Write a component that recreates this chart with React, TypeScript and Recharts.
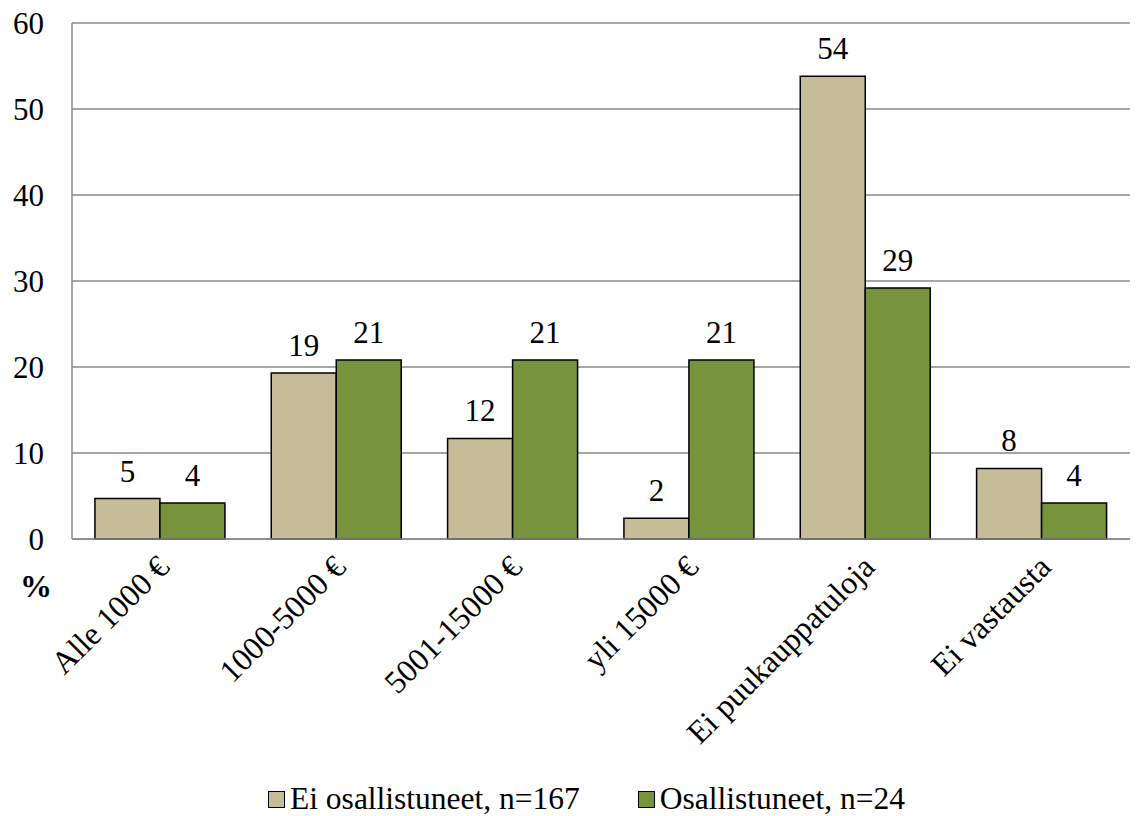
import React from 'react'
import { BarChart, Bar, XAxis, YAxis, CartesianGrid, LabelList, Legend } from 'recharts'

const categories = ['Alle 1000 €', '1000-5000 €', '5001-15000 €', 'yli 15000 €', 'Ei puukauppatuloja', 'Ei vastausta']
const eiOsallistuneet = [4.7, 19.3, 11.7, 2.4, 53.8, 8.2]
const osallistuneet = [4.2, 20.8, 20.8, 20.8, 29.2, 4.2]
const yTicks = [0, 10, 20, 30, 40, 50, 60]

const SERIES = [
  { key: 'ei', name: 'Ei osallistuneet, n=167', color: '#C4BD97' },
  { key: 'os', name: 'Osallistuneet, n=24', color: '#77933C' },
]

const FONT = 'Liberation Serif, Times New Roman, serif'

const data = categories.map((c, i) => ({ name: c, ei: eiOsallistuneet[i], os: osallistuneet[i] }))

// rotated category labels, ending just under the category centre
const XTick = ({ x, y, payload }: any) => (
  <text
    x={x + 11}
    y={y + 22}
    transform={`rotate(-45, ${x + 11}, ${y + 22})`}
    textAnchor="end"
    fontSize={32}
    fontFamily={FONT}
    fill="#000"
  >
    {payload.value}
  </text>
)

const LegendContent = () => (
  <div style={{ display: 'flex', paddingLeft: 268, gap: 58, fontFamily: FONT, fontSize: 31.5, color: '#000', lineHeight: '32px' }}>
    {SERIES.map((s) => (
      <div key={s.key} style={{ display: 'flex', alignItems: 'center' }}>
        <span style={{ width: 15, height: 15, background: s.color, border: '1.5px solid #000', marginRight: 5, display: 'inline-block' }} />
        <span>{s.name}</span>
      </div>
    ))}
  </div>
)

export default function App() {
  return (
    <div style={{ position: 'absolute', left: 0, top: 0, width: 1139, height: 816, background: '#fff' }}>
      <BarChart
        width={1139}
        height={816}
        data={data}
        margin={{ top: 23, right: 9, left: 0, bottom: 1 }}
        barCategoryGap="13%"
        barGap={0}
      >
        <CartesianGrid vertical={false} stroke="#898989" strokeWidth={1.5} />
        <XAxis
          dataKey="name"
          interval={0}
          height={244}
          tick={<XTick />}
          tickLine={false}
          axisLine={{ stroke: '#898989', strokeWidth: 1.5 }}
        />
        <YAxis
          width={72}
          domain={[0, 60]}
          ticks={yTicks}
          tickLine={false}
          tickMargin={22}
          axisLine={{ stroke: '#898989', strokeWidth: 1.5 }}
          tick={{ fontSize: 31, fontFamily: FONT, fill: '#000' }}
        />
        <Legend verticalAlign="bottom" content={<LegendContent />} />
        {SERIES.map((s) => (
          <Bar key={s.key} dataKey={s.key} name={s.name} fill={s.color} stroke="#000" strokeWidth={1.5} isAnimationActive={false}>
            <LabelList
              dataKey={s.key}
              position="top"
              offset={17}
              formatter={(v: any) => Math.round(v)}
              style={{ fontSize: 31, fontFamily: FONT, fill: '#000' }}
            />
          </Bar>
        ))}
      </BarChart>
      <div style={{ position: 'absolute', left: 20, top: 568, fontFamily: FONT, fontSize: 32, fontWeight: 'bold' }}>%</div>
    </div>
  )
}
